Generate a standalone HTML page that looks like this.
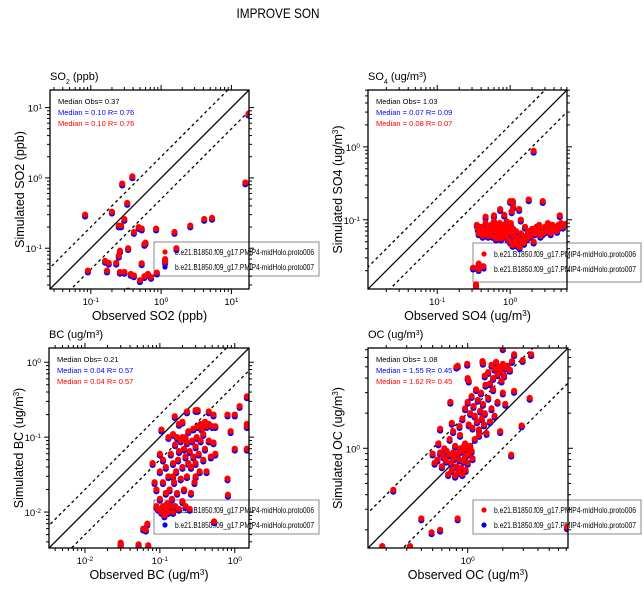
<!DOCTYPE html>
<html><head><meta charset="utf-8"><style>
html,body{margin:0;padding:0;background:#fff;width:644px;height:592px;overflow:hidden}
svg{display:block;font-family:"Liberation Sans",sans-serif}
</style></head><body>
<svg id="fig" width="644" height="592" viewBox="0 0 644 592" xmlns="http://www.w3.org/2000/svg">
<text x="278" y="18" font-size="14" text-anchor="middle" textLength="83" lengthAdjust="spacingAndGlyphs">IMPROVE SON</text>
</svg>
<script>
// ---------- SO2 ----------
const so2Obs = [0.083,0.28,0.39,0.33,0.20,0.30,0.25,0.27,0.48,0.53,0.41,0.85,1.55,2.6,4.1,5.3,15.8,17.5,0.60,0.58,0.34,0.26,0.25,0.16,0.18,0.23,0.091,0.17,0.26,0.30,0.37,0.41,0.53,0.50,0.58,0.65,0.72,0.87,1.14,1.14,1.65,0.34];
const so2Sim = [0.30,0.83,1.05,0.44,0.33,0.26,0.21,0.21,0.20,0.19,0.17,0.19,0.17,0.21,0.26,0.27,0.86,8.2,0.12,0.115,0.10,0.092,0.078,0.066,0.062,0.062,0.048,0.048,0.046,0.046,0.043,0.041,0.061,0.035,0.040,0.043,0.039,0.045,0.064,0.070,0.10,0.025];
// ---------- SO4 ----------
const so4Obs = [2.1,0.31,0.37,0.37,0.43,0.34,0.34,1.0,1.09,1.8,2.8,0.73,1.33,0.46,0.6,0.83,4.8,1.05,1.1,1.4,
0.35,0.36,0.37,0.38,0.4,0.42,0.43,0.45,0.46,0.48,0.5,0.5,0.52,0.54,0.55,0.57,0.58,0.6,0.6,0.62,0.64,0.65,0.67,0.68,0.7,0.72,0.73,0.75,0.77,0.78,0.8,0.82,0.85,0.88,0.9,0.92,0.95,0.97,1.0,1.02,1.05,1.08,1.1,1.12,1.15,1.2,1.25,1.3,1.35,1.4,1.45,1.5,1.55,1.6,1.7,1.75,1.8,1.9,2.0,2.1,2.2,2.3,2.4,2.5,2.6,2.7,2.8,3.0,3.1,3.3,3.4,3.6,3.8,4.0,4.2,4.4,4.6,4.8,5.0,5.3,5.8];
const so4Sim = [0.88,0.022,0.025,0.021,0.023,0.0115,0.013,0.18,0.18,0.19,0.18,0.14,0.14,0.11,0.115,0.117,0.115,0.13,0.15,0.10,
0.085,0.075,0.065,0.07,0.08,0.06,0.072,0.065,0.09,0.07,0.06,0.08,0.075,0.068,0.085,0.06,0.072,0.065,0.095,0.078,0.055,0.07,0.085,0.06,0.075,0.09,0.065,0.055,0.08,0.07,0.06,0.085,0.075,0.065,0.095,0.055,0.08,0.07,0.05,0.09,0.065,0.045,0.075,0.06,0.05,0.07,0.045,0.055,0.042,0.065,0.05,0.06,0.048,0.08,0.055,0.065,0.07,0.06,0.075,0.05,0.065,0.08,0.07,0.085,0.06,0.075,0.065,0.08,0.07,0.09,0.075,0.065,0.085,0.075,0.08,0.07,0.085,0.08,0.09,0.08,0.088];
// ---------- BC ----------
const bcObs = [0.03,0.03,0.052,0.07,0.06,0.065,0.068,0.53,0.105,0.158,0.23,0.30,0.32,0.45,0.52,0.8,1.0,1.16,1.45,1.45,1.45,0.88,1.0,1.45,0.8,0.81,
0.08,0.085,0.09,0.09,0.095,0.1,0.1,0.1,0.105,0.11,0.11,0.11,0.115,0.12,0.12,0.12,0.125,0.13,0.13,0.13,0.135,0.14,0.14,0.145,0.15,0.15,0.15,0.155,0.16,0.16,0.165,0.17,0.17,0.175,0.18,0.18,0.19,0.19,0.2,0.2,0.2,0.21,0.21,0.22,0.22,0.23,0.23,0.24,0.24,0.25,0.25,0.26,0.27,0.28,0.28,0.29,0.3,0.3,0.31,0.32,0.33,0.34,0.35,0.35,0.36,0.38,0.38,0.4,0.4,0.42,0.42,0.45,0.45,0.48,0.5,0.52,0.55,0.55,0.3,0.26,0.18,0.2,0.15,0.22];
const bcSim = [0.0036,0.0039,0.0037,0.0036,0.006,0.0058,0.007,0.0075,0.126,0.19,0.22,0.23,0.23,0.22,0.2,0.2,0.2,0.26,0.35,0.15,0.14,0.12,0.07,0.07,0.028,0.017,
0.045,0.025,0.012,0.02,0.011,0.015,0.035,0.06,0.01,0.012,0.025,0.05,0.009,0.011,0.018,0.04,0.013,0.1,0.01,0.03,0.02,0.012,0.06,0.015,0.11,0.045,0.01,0.025,0.08,0.012,0.035,0.1,0.018,0.05,0.011,0.065,0.028,0.09,0.014,0.04,0.1,0.07,0.02,0.055,0.012,0.085,0.03,0.045,0.12,0.011,0.065,0.04,0.09,0.055,0.13,0.025,0.075,0.045,0.1,0.14,0.06,0.035,0.09,0.15,0.13,0.05,0.11,0.16,0.07,0.14,0.035,0.09,0.15,0.055,0.14,0.085,0.14,0.06,0.03,0.018,0.15,0.16,0.03,0.1];
// ---------- OC ----------
const ocObs = [0.23,0.185,0.32,0.4,0.49,0.58,0.82,2.36,2.9,3.4,7.1,2.5,2.0,2.5,2.96,3.5,0.8,0.82,0.99,1.34,1.35,0.71,0.58,0.73,0.85,1.0,1.02,
0.5,0.52,0.55,0.56,0.58,0.6,0.62,0.63,0.65,0.66,0.68,0.7,0.7,0.72,0.73,0.75,0.76,0.78,0.78,0.8,0.82,0.83,0.85,0.86,0.88,0.9,0.9,0.92,0.93,0.95,0.96,0.98,1.0,1.02,1.05,1.08,1.1,0.95,0.86,0.75,
0.9,0.95,1.0,1.02,1.05,1.08,1.1,1.12,1.15,1.18,1.2,1.22,1.25,1.28,1.3,1.32,1.35,1.38,1.4,1.42,1.45,1.5,1.55,1.6,1.65,1.7,1.8,1.9,2.0,2.1,1.15,1.25,
1.5,1.6,1.65,1.7,1.75,1.8,1.85,1.9,2.0,2.05,2.1,2.2,2.3,2.4,1.4,1.55,1.95];
const ocSim = [0.44,0.145,0.145,0.25,0.19,0.2,0.25,0.88,1.57,2.7,0.21,3.1,7.2,6.4,5.7,6.4,5.0,5.1,5.3,5.6,5.4,2.5,1.47,1.65,1.55,4.0,3.8,
0.9,0.75,0.8,1.1,0.92,0.7,0.85,1.0,0.78,0.95,0.6,0.88,1.2,0.75,0.65,0.92,0.82,1.05,0.58,0.7,0.9,0.62,0.8,1.0,0.68,0.95,0.6,0.78,1.05,0.85,0.65,1.0,0.75,0.9,1.05,0.95,0.82,1.1,1.3,1.4,
1.8,2.2,2.5,1.6,2.0,2.8,1.5,2.3,1.9,3.2,1.7,2.6,1.45,2.1,3.0,1.8,2.4,1.6,2.0,3.5,1.35,2.7,1.7,2.2,3.2,1.9,2.5,1.4,3.0,2.4,1.2,1.3,
4.5,5.2,4.0,4.8,5.5,4.3,5.0,4.6,5.3,4.2,4.9,5.1,4.7,5.6,4.2,3.6,3.8];

const svg = document.getElementById('fig');
const NS = 'http://www.w3.org/2000/svg';
function mk(tag, attrs, parent){const e=document.createElementNS(NS,tag);for(const k in attrs)e.setAttribute(k,attrs[k]);(parent||svg).appendChild(e);return e;}

const panels = [
 {id:'so2',x0:50,y0:90,size:199,lo:-1.58,hi:1.25,obs:so2Obs,sim:so2Sim,title:'SO<tspan font-size="7" baseline-shift="sub">2</tspan> (ppb)',xl:'Observed SO2 (ppb)',yl:'Simulated SO2 (ppb)',unit:false,
  med:['Median Obs= 0.37','Median = 0.10 R= 0.76','Median = 0.10 R= 0.76'],lg:[154,242,165,34]},
 {id:'so4',x0:368,y0:90,size:199,lo:-1.95,hi:0.78,obs:so4Obs,sim:so4Sim,title:'SO<tspan font-size="7" baseline-shift="sub">4</tspan> (ug/m<tspan font-size="7" baseline-shift="super">3</tspan>)',xl:'Observed SO4 (ug/m',yl:'Simulated SO4 (ug/m',unit:true,
  med:['Median Obs= 1.03','Median = 0.07 R= 0.09','Median = 0.08 R= 0.07'],lg:[473,243,168,39]},
 {id:'bc',x0:49,y0:348,size:200,lo:-2.48,hi:0.19,obs:bcObs,sim:bcSim,title:'BC (ug/m<tspan font-size="7" baseline-shift="super">3</tspan>)',xl:'Observed BC (ug/m',yl:'Simulated BC (ug/m',unit:true,
  med:['Median Obs= 0.21','Median = 0.04 R= 0.57','Median = 0.04 R= 0.57'],lg:[154,500,165,34]},
 {id:'oc',x0:368,y0:348,size:200,lo:-0.855,hi:0.86,obs:ocObs,sim:ocSim,title:'OC (ug/m<tspan font-size="7" baseline-shift="super">3</tspan>)',xl:'Observed OC (ug/m',yl:'Simulated OC (ug/m',unit:true,
  med:['Median Obs= 1.08','Median = 1.55 R= 0.45','Median = 1.62 R= 0.45'],lg:[473,500,168,34]}
];

panels.forEach(p=>{
  const g = mk('g',{});
  
  
  const sx = v => p.x0 + (Math.log10(v)-p.lo)/(p.hi-p.lo)*p.size;
  const sy = v => p.y0 + p.size - (Math.log10(v)-p.lo)/(p.hi-p.lo)*p.size;
  const X1=p.x0, X2=p.x0+p.size, Y1=p.y0, Y2=p.y0+p.size;
  const clip = mk('clipPath',{id:'c'+p.id},g);
  mk('rect',{x:X1,y:Y1,width:p.size,height:p.size},clip);
  const lines = mk('g',{'clip-path':'url(#c'+p.id+')'},g);
  
  
  const a=Math.pow(10,p.lo-1), b=Math.pow(10,p.hi+1);
  mk('line',{x1:sx(a),y1:sy(a),x2:sx(b),y2:sy(b),stroke:'#000','stroke-width':1.3},lines);
  [2,0.5].forEach(f=>{mk('line',{x1:sx(a),y1:sy(a*f),x2:sx(b),y2:sy(b*f),stroke:'#000','stroke-width':1.3,'stroke-dasharray':'3,3'},lines);});
  const [lx,ly,lw,lh]=p.lg;
  const lgd = mk('g',{},g);
  
  
  mk('rect',{x:lx,y:ly,width:lw,height:lh,fill:'none',stroke:'#888','stroke-width':1},lgd);
  const rows=[['#ff0000','b.e21.B1850.f09_g17.PMIP4-midHolo.proto006'],['#0000ff','b.e21.B1850.f09_g17.PMIP4-midHolo.proto007']];
  rows.forEach((r,i)=>{
    const yy = ly + (lh>36? 11+i*15 : 10+i*15);
    mk('circle',{cx:lx+11,cy:yy,r:2.6,fill:r[0]},lgd);
    const t=mk('text',{x:lx+21,y:yy+3,'font-size':8,fill:'#000',textLength:lw-26,lengthAdjust:'spacingAndGlyphs'},lgd);
    t.textContent=r[1];
    
    
  });
  const pts = mk('g',{'clip-path':'url(#c'+p.id+')'},g);
  
  
  p.obs.forEach((o,i)=>{
    const c=mk('circle',{cx:sx(o),cy:sy(p.sim[i])+1.8,r:3.1,fill:'#0000ff'},pts);
    
    
  });
  p.obs.forEach((o,i)=>{
    const c=mk('circle',{cx:sx(o),cy:sy(p.sim[i]),r:3.1,fill:'#ff0000'},pts);
    
    
  });
  mk('rect',{x:X1,y:Y1,width:p.size,height:p.size,fill:'none',stroke:'#000','stroke-width':1.3},g);
  const tk = mk('g',{stroke:'#000','stroke-width':1},g);
  
  
  for(let d=Math.floor(p.lo);d<=Math.ceil(p.hi);d++){
    for(let m=1;m<10;m++){
      const v=m*Math.pow(10,d), lv=Math.log10(v);
      if(lv<p.lo-1e-6||lv>p.hi+1e-6)continue;
      const L = m===1?5:3;
      const px=sx(v), py=sy(v);
      mk('line',{x1:px,y1:Y2,x2:px,y2:Y2+L},tk);
      mk('line',{x1:px,y1:Y1,x2:px,y2:Y1-L},tk);
      mk('line',{x1:X1,y1:py,x2:X1-L,y2:py},tk);
      mk('line',{x1:X2,y1:py,x2:X2+L,y2:py},tk);
      if(m===1){
        const xt=mk('text',{x:px,y:Y2+16,'font-size':9.5,'text-anchor':'middle'},g);
        xt.innerHTML='10<tspan font-size="6.5" baseline-shift="super">'+d+'</tspan>';
        
        
        const yt=mk('text',{x:X1-8,y:py+4,'font-size':9.5,'text-anchor':'end'},g);
        yt.innerHTML='10<tspan font-size="6.5" baseline-shift="super">'+d+'</tspan>';
        
        
      }
    }
  }
  const tt=mk('text',{x:X1,y:Y1-10,'font-size':11},g);
  tt.innerHTML=p.title;
  
  
  const cols=['#000','#0000ff','#ff0000'];
  p.med.forEach((s,i)=>{
    const t=mk('text',{x:X1+8,y:Y1+14+i*11,'font-size':7.5,fill:cols[i]},g);
    t.textContent=s;
    
    
  });
  const sup = p.unit ? '<tspan font-size="8" baseline-shift="super">3</tspan>)' : '';
  const cx=X1+p.size/2;
  const xl=mk('text',{x:cx,y:Y2+31,'font-size':12.5,'text-anchor':'middle'},g);
  xl.innerHTML=p.xl+sup;
  
  
  const ylx=X1-26, cy=Y1+p.size/2;
  const yl=mk('text',{x:ylx,y:cy,'font-size':12.5,'text-anchor':'middle',transform:'rotate(-90 '+ylx+' '+cy+')'},g);
  yl.innerHTML=p.yl+sup;
  
  
});
</script>
</body></html>
